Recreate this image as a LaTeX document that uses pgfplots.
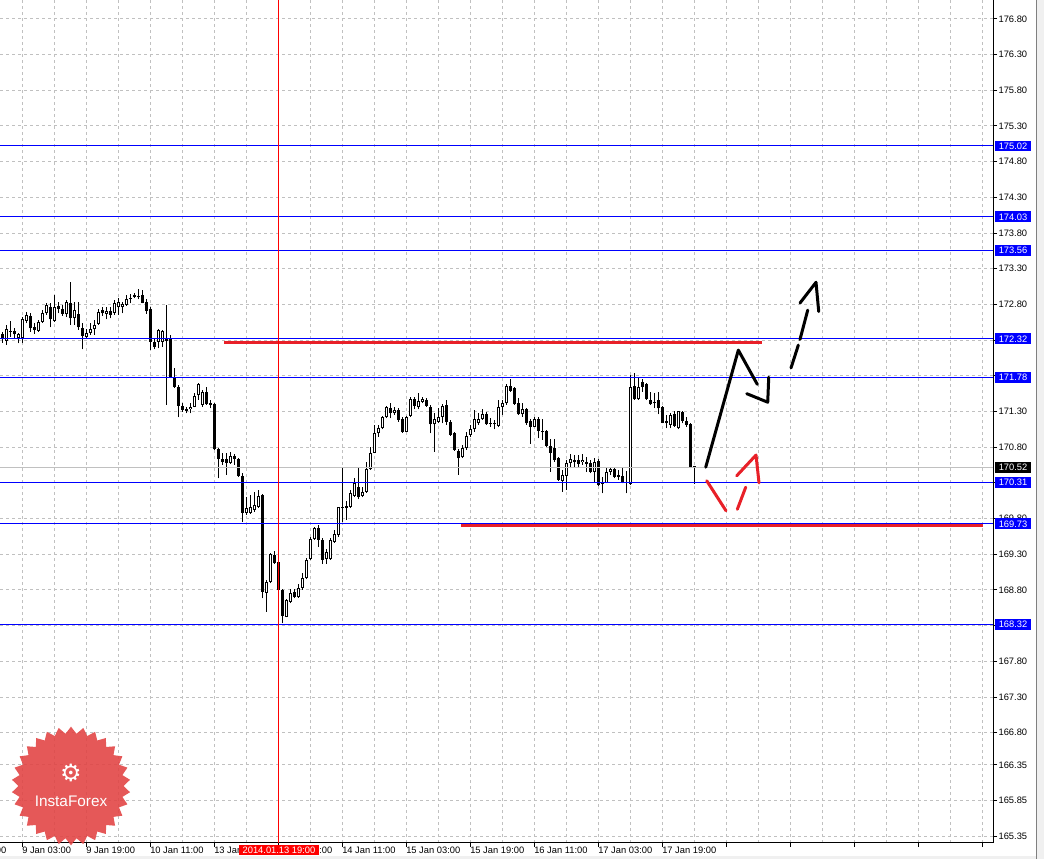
\documentclass[border=0pt]{standalone}
\usepackage{fontspec}
\setmainfont{Liberation Sans}
\newfontfamily\djv{DejaVu Sans}
\usepackage{pgfplots}
\pgfplotsset{compat=1.18}
\usepackage{pgfplotstable}
\usetikzlibrary{shapes.geometric}
\definecolor{gridc}{RGB}{192,192,192}
\definecolor{lblue}{RGB}{0,0,255}
\definecolor{mred}{RGB}{232,32,40}
\definecolor{starred}{RGB}{226,66,66}
\definecolor{bggray}{RGB}{240,240,240}
\definecolor{silv}{RGB}{192,192,192}

\pgfplotstableread{
i o h l c
0 172.387 172.419 172.265 172.312
1 172.293 172.513 172.232 172.452
2 172.433 172.573 172.349 172.415
3 172.429 172.466 172.326 172.382
4 172.326 172.405 172.256 172.387
5 172.326 172.629 172.256 172.592
6 172.573 172.699 172.536 172.653
7 172.639 172.676 172.419 172.466
8 172.480 172.536 172.387 172.443
9 172.433 172.583 172.419 172.550
10 172.559 172.723 172.545 172.676
11 172.676 172.816 172.653 172.793
12 172.769 172.825 172.480 172.592
13 172.573 172.933 172.559 172.769
14 172.779 172.839 172.676 172.732
15 172.732 172.793 172.639 172.667
16 172.662 172.863 172.629 172.830
17 172.816 173.110 172.513 172.606
18 172.606 172.839 172.513 172.723
19 172.667 172.839 172.443 172.480
20 172.475 172.536 172.172 172.363
21 172.349 172.452 172.326 172.405
22 172.405 172.545 172.373 172.457
23 172.452 172.583 172.373 172.513
24 172.527 172.732 172.513 172.699
25 172.723 172.760 172.639 172.676
26 172.667 172.760 172.592 172.713
27 172.713 172.760 172.606 172.653
28 172.685 172.863 172.653 172.825
29 172.760 172.886 172.653 172.830
30 172.760 172.839 172.676 172.802
31 172.797 172.933 172.779 172.872
32 172.896 172.947 172.816 172.872
33 172.910 172.956 172.886 172.933
34 172.919 173.012 172.872 172.900
35 172.933 173.003 172.816 172.825
36 172.839 172.872 172.667 172.713
37 172.732 172.760 172.162 172.279
38 172.279 172.326 172.172 172.209
39 172.279 172.452 172.186 172.443
40 172.279 172.443 172.209 172.429
41 172.312 172.793 171.392 172.293
42 172.312 172.373 171.766 171.780
43 171.780 171.906 171.626 171.649
44 171.649 171.672 171.219 171.378
45 171.378 171.415 171.299 171.322
46 171.331 171.369 171.275 171.313
47 171.331 171.415 171.275 171.369
48 171.369 171.555 171.359 171.518
49 171.527 171.695 171.462 171.686
50 171.392 171.602 171.369 171.579
51 171.579 171.649 171.392 171.401
52 171.415 171.462 171.345 171.392
53 171.406 171.415 170.762 170.771
54 170.771 170.785 170.365 170.631
55 170.631 170.715 170.552 170.598
56 170.631 170.715 170.412 170.585
57 170.585 170.739 170.566 170.678
58 170.683 170.706 170.552 170.641
59 170.631 170.645 170.388 170.402
60 170.402 170.435 169.758 169.875
61 169.875 170.108 169.852 169.945
62 169.884 170.132 169.866 169.968
63 169.921 170.178 169.898 169.992
64 169.968 170.202 169.945 170.118
65 170.132 170.141 168.684 168.778
66 168.764 168.941 168.497 168.918
67 168.918 169.315 168.894 169.305
68 169.291 169.347 169.165 169.175
69 169.189 169.198 168.792 168.801
70 168.801 168.815 168.334 168.441
71 168.427 168.670 168.418 168.661
72 168.638 168.810 168.614 168.764
73 168.778 168.810 168.684 168.698
74 168.698 168.885 168.689 168.834
75 168.824 169.034 168.801 168.974
76 168.964 169.245 168.950 169.221
77 169.231 169.548 169.221 169.515
78 169.515 169.688 169.501 169.665
79 169.665 169.711 169.399 169.501
80 169.501 169.525 169.161 169.221
81 169.231 169.371 169.165 169.338
82 169.231 169.525 169.221 169.501
83 169.478 169.641 169.464 169.581
84 169.571 169.968 169.548 169.959
85 169.968 170.505 169.758 169.945
86 169.978 170.048 169.782 169.945
87 169.968 170.202 169.945 170.155
88 170.118 170.365 170.099 170.295
89 170.248 170.505 170.071 170.099
90 170.118 170.248 170.099 170.178
91 170.178 170.598 170.164 170.491
92 170.491 170.809 170.482 170.715
93 170.724 171.112 170.715 170.995
94 170.995 171.112 170.948 171.065
95 171.065 171.238 171.051 171.219
96 171.219 171.378 171.205 171.359
97 171.345 171.415 171.205 171.275
98 171.275 171.359 171.252 171.322
99 171.322 171.345 171.158 171.182
100 171.191 171.228 171.004 171.018
101 171.018 171.238 171.009 171.228
102 171.238 171.508 171.228 171.471
103 171.471 171.508 171.331 171.378
104 171.359 171.555 171.331 171.443
105 171.438 171.499 171.415 171.471
106 171.462 171.485 171.368 171.382
107 171.368 171.392 170.995 171.121
108 171.121 171.275 170.738 171.191
109 171.158 171.345 171.135 171.228
110 171.228 171.406 171.135 171.378
111 171.392 171.462 171.112 171.158
112 171.158 171.182 170.958 170.972
113 170.995 171.018 170.752 170.761
114 170.747 170.771 170.411 170.645
115 170.659 170.831 170.645 170.785
116 170.785 171.018 170.761 170.958
117 170.972 171.112 170.948 171.051
118 171.051 171.322 171.018 171.191
119 171.135 171.284 171.112 171.191
120 171.191 171.331 171.182 171.266
121 171.266 171.298 171.112 171.121
122 171.144 171.205 171.088 171.130
123 171.135 171.182 171.051 171.121
124 171.098 171.462 171.079 171.359
125 171.368 171.462 171.252 171.415
126 171.415 171.686 171.392 171.658
127 171.658 171.751 171.579 171.593
128 171.625 171.649 171.392 171.406
129 171.415 171.485 171.252 171.261
130 171.261 171.415 171.228 171.331
131 171.331 171.345 171.112 171.135
132 171.172 171.191 170.845 171.088
133 171.088 171.228 171.079 171.191
134 171.191 171.228 170.925 171.032
135 171.027 171.191 170.901 171.009
136 171.032 171.041 170.799 170.817
137 170.817 170.911 170.458 170.724
138 170.785 170.911 170.598 170.621
139 170.645 170.668 170.332 170.341
140 170.332 170.481 170.178 170.411
141 170.397 170.621 170.201 170.584
142 170.584 170.701 170.505 170.635
143 170.621 170.691 170.528 170.598
144 170.621 170.691 170.528 170.565
145 170.589 170.701 170.551 170.621
146 170.598 170.668 170.458 170.565
147 170.575 170.621 170.435 170.458
148 170.458 170.645 170.318 170.598
149 170.612 170.631 170.257 170.271
150 170.318 170.388 170.154 170.285
151 170.304 170.505 170.294 170.458
152 170.458 170.519 170.411 170.491
153 170.491 170.519 170.364 170.388
154 170.411 170.481 170.341 170.388
155 170.397 170.519 170.294 170.304
156 170.313 170.467 170.154 170.304
157 170.285 171.812 170.271 171.649
158 171.658 171.845 171.462 171.471
159 171.471 171.765 171.462 171.649
160 171.719 171.751 171.578 171.649
161 171.686 171.705 171.462 171.471
162 171.462 171.578 171.392 171.401
163 171.438 171.564 171.345 171.415
164 171.462 171.569 171.261 171.345
165 171.368 171.378 171.135 171.144
166 171.168 171.252 171.065 171.135
167 171.112 171.275 171.065 171.252
168 171.266 171.312 171.088 171.098
169 171.065 171.312 171.051 171.308
170 171.298 171.312 171.135 171.168
171 171.168 171.228 171.088 171.112
172 171.126 171.135 170.505 170.519
173 170.530 170.537 170.285 170.520
}\candles

\begin{document}
\begin{tikzpicture}
\path[use as bounding box] (0,0) rectangle (783pt,644.25pt);
\fill[white] (0,0) rectangle (783pt,644.25pt);
\fill[bggray] (0,0) rectangle (783pt,2.25pt);
\fill[bggray] (777.75pt,0) rectangle (783pt,644.25pt);
\draw[gray, line width=0.75pt] (777.4pt,0) -- (777.4pt,644.25pt);
\begin{axis}[
  at={(0pt,12pt)}, anchor=south west,
  scale only axis, width=744.75pt, height=632.25pt,
  xmin=-0.5, xmax=247.75, ymin=165.257, ymax=177.065,
  axis x line*=bottom, axis y line*=right,
  axis line style={black, line width=0.75pt},
  every tick/.style={black, line width=0.75pt},
  tick align=outside, major tick length=3pt, minor tick length=0pt,
  xtick={5,21,...,245}, minor xtick={13,29,...,237},
  xticklabels={9 Jan 03:00,9 Jan 19:00,10 Jan 11:00,13 Jan 03:00,13 Jan 19:00,14 Jan 11:00,15 Jan 03:00,15 Jan 19:00,16 Jan 11:00,17 Jan 03:00,17 Jan 19:00,{},{},{},{},{}},
  ytick={165.35,165.85,166.35,166.80,167.30,167.80,168.30,168.80,169.30,169.80,170.30,170.80,171.30,171.80,172.30,172.80,173.30,173.80,174.30,174.80,175.30,175.80,176.30,176.80},
  yticklabels={165.35,165.85,166.35,166.80,167.30,167.80,{},168.80,169.30,169.80,{},170.80,171.30,{},{},172.80,173.30,173.80,174.30,174.80,175.30,175.80,176.30,176.80},
  grid=both,
  major grid style={gridc, line width=0.75pt, dash pattern=on 2.25pt off 2.25pt},
  minor grid style={gridc, line width=0.75pt, dash pattern=on 2.25pt off 2.25pt},
  ticklabel style={font=\fontsize{7}{8}\selectfont, text=black},
  xticklabel style={anchor=north west, inner xsep=0pt, inner ysep=1pt, yshift=1.5pt},
  yticklabel style={anchor=west, inner xsep=1pt},
  clip=true,
]
% wicks
\addplot[draw=none, no marks, forget plot, error bars/.cd, y dir=plus, y explicit, error mark=none,
  error bar style={draw=black, line width=0.75pt, solid}]
  table[x=i, y=l, y error plus expr=\thisrow{h}-\thisrow{l}] {\candles};
% bodies
\addplot[draw=none, no marks, forget plot, error bars/.cd, y dir=plus, y explicit, error mark=none,
  error bar style={draw=black, line width=2.25pt, solid}]
  table[x=i, y expr={min(\thisrow{o},\thisrow{c})}, y error plus expr={max(abs(\thisrow{c}-\thisrow{o}),0.014)}] {\candles};
% hollow interior of rising candles
\addplot[draw=none, no marks, forget plot, error bars/.cd, y dir=plus, y explicit, error mark=none,
  error bar style={draw=white, line width=0.75pt, solid}]
  table[x=i, y expr={\thisrow{c}>\thisrow{o} ? \thisrow{o}+0.014 : 100}, y error plus expr={max(\thisrow{c}-\thisrow{o}-0.028,0)}] {\candles};
% horizontal levels
\addplot[silv, line width=0.75pt] coordinates {(-0.5,170.52) (247.75,170.52)};
\addplot[lblue, line width=0.75pt] coordinates {(-0.5,175.02) (247.75,175.02)};
\addplot[lblue, line width=0.75pt] coordinates {(-0.5,174.03) (247.75,174.03)};
\addplot[lblue, line width=0.75pt] coordinates {(-0.5,173.56) (247.75,173.56)};
\addplot[lblue, line width=0.75pt] coordinates {(-0.5,172.32) (247.75,172.32)};
\addplot[lblue, line width=0.75pt] coordinates {(-0.5,171.78) (247.75,171.78)};
\addplot[lblue, line width=0.75pt] coordinates {(-0.5,170.31) (247.75,170.31)};
\addplot[lblue, line width=0.75pt] coordinates {(-0.5,169.73) (247.75,169.73)};
\addplot[lblue, line width=0.75pt] coordinates {(-0.5,168.32) (247.75,168.32)};
% red level lines
\addplot[mred, line width=2.25pt] coordinates {(55.5,172.27) (190,172.27)};
\addplot[mred, line width=2.25pt] coordinates {(114.75,169.70) (245.25,169.70)};
% vertical time line
\addplot[red, line width=0.75pt] coordinates {(69,165.257) (69,177.065)};
% forecast sketches
\addplot[black, line width=2.25pt, line cap=round, line join=round] coordinates {(175.93,170.52) (184.08,172.16) (188.83,171.68)};
\addplot[black, line width=2.25pt, line cap=round, line join=round] coordinates {(186.18,171.55) (191.43,171.43) (191.68,171.78)};
\addplot[black, line width=2.25pt, line cap=round] coordinates {(197.25,171.91) (199.08,172.23)};
\addplot[black, line width=2.25pt, line cap=round] coordinates {(199.5,172.31) (201.43,172.72)};
\addplot[black, line width=2.25pt, line cap=round, line join=round] coordinates {(199.5,172.82) (203.5,173.11) (204.18,172.70)};
\addplot[mred, line width=2.25pt, line cap=round] coordinates {(176.18,170.33) (181.0,169.91)};
\addplot[mred, line width=2.25pt, line cap=round] coordinates {(183.83,169.93) (185.93,170.24)};
\addplot[mred, line width=2.25pt, line cap=round, line join=round] coordinates {(183.68,170.40) (188.5,170.69) (189.25,170.30)};
% anchor points for labels
\coordinate (P1) at (axis cs:247.75,175.02);
\coordinate (P2) at (axis cs:247.75,174.03);
\coordinate (P3) at (axis cs:247.75,173.56);
\coordinate (P4) at (axis cs:247.75,172.32);
\coordinate (P5) at (axis cs:247.75,171.78);
\coordinate (P6) at (axis cs:247.75,170.52);
\coordinate (P7) at (axis cs:247.75,170.31);
\coordinate (P8) at (axis cs:247.75,169.73);
\coordinate (P9) at (axis cs:247.75,168.32);
\coordinate (T1) at (axis cs:69.25,165.257);
\coordinate (T0) at (axis cs:-11,165.257);
\end{axis}
\tikzset{plbl/.style={anchor=west, fill=lblue, text=white, font=\fontsize{7}{8}\selectfont, inner xsep=2.6pt, inner ysep=1.5pt, text height=5.2pt, text depth=0pt}}
\node[plbl] at ([xshift=1.5pt]P1) {175.02};
\node[plbl] at ([xshift=1.5pt]P2) {174.03};
\node[plbl] at ([xshift=1.5pt]P3) {173.56};
\node[plbl] at ([xshift=1.5pt]P4) {172.32};
\node[plbl] at ([xshift=1.5pt]P5) {171.78};
\node[plbl, fill=black] at ([xshift=1.5pt]P6) {170.52};
\node[plbl] at ([xshift=1.5pt]P7) {170.31};
\node[plbl] at ([xshift=1.5pt]P8) {169.73};
\node[plbl] at ([xshift=1.5pt]P9) {168.32};
\node[anchor=north, fill=red, text=white, font=\fontsize{7}{8}\selectfont, inner xsep=2.5pt, inner ysep=1.2pt, text height=5.2pt, text depth=0pt] at ([yshift=-1.5pt]T1) {2014.01.13 19:00};
\node[anchor=north west, inner xsep=0pt, inner ysep=1pt, font=\fontsize{7}{8}\selectfont] at ([yshift=-1.5pt]T0) {8 Jan 11:00};
% logo
\node[star, star points=30, star point ratio=1.13, minimum size=89pt, inner sep=0pt, fill=starred, fill opacity=0.88, draw=none] at (53.25pt,54.75pt) {};
\node[text=white, font=\djv\fontsize{18}{18}\selectfont] at (53.25pt,64.5pt) {⚙};
\node[text=white, font=\fontsize{11.5}{12}\selectfont] at (53.25pt,43.5pt) {InstaForex};
\end{tikzpicture}
\end{document}
